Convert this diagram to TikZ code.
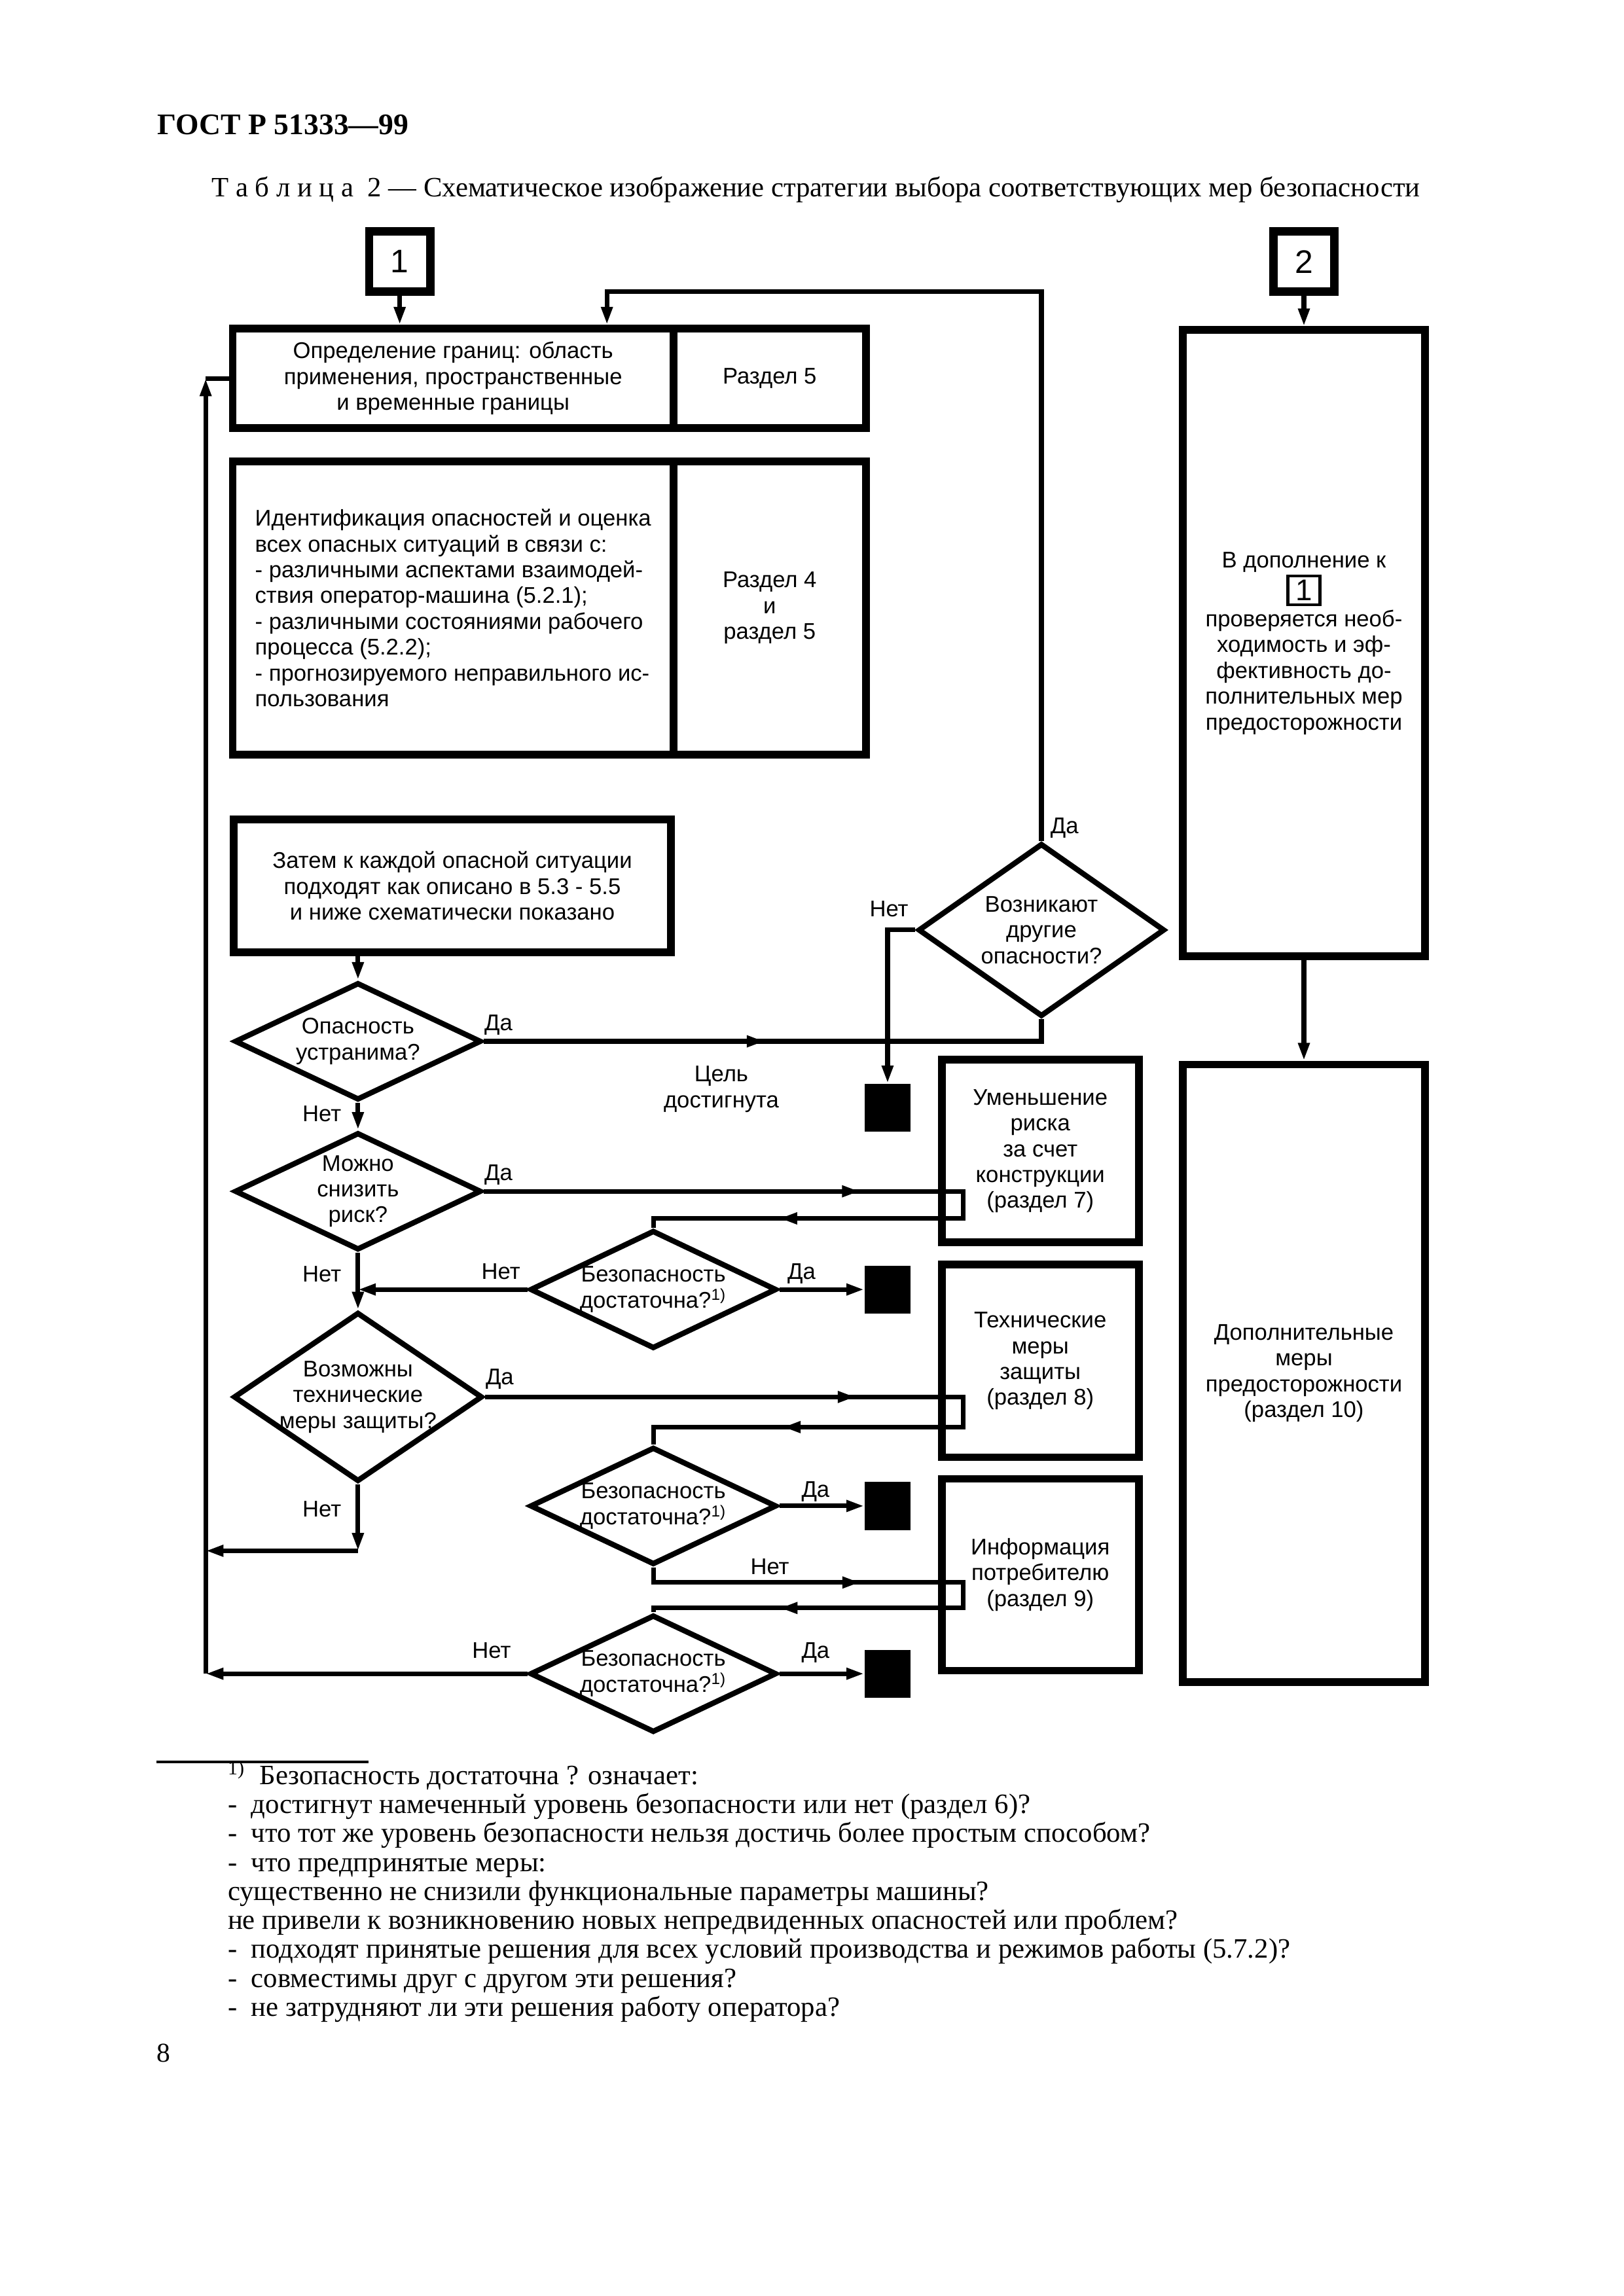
\documentclass[tikz,border=0pt]{standalone}
\usepackage{fontspec}
\setmainfont{Liberation Serif}
\setsansfont{Liberation Sans}
\usetikzlibrary{shapes.geometric,arrows.meta,decorations.markings,positioning}

\newcommand{\dtext}{\sffamily\fontsize{8.35}{9.5}\selectfont}
\newcommand{\framedone}{{\setlength{\fboxrule}{0.35mm}\setlength{\fboxsep}{0.35mm}\fbox{\fontsize{11}{11}\selectfont\makebox[3.1mm]{1}}}}
\tikzset{gost/.tip={Triangle[length=2.3mm,width=1.4mm]}}

\begin{document}
\begin{tikzpicture}[x=1mm, y=-1mm,
    block/.style={draw, line width=1mm, inner sep=0pt, align=center, font=\dtext},
    startbox/.style={draw, line width=1.1mm, inner sep=0pt, minimum width=7.9mm, minimum height=7.8mm, font=\sffamily\fontsize{12}{12}\selectfont},
    decision/.style={diamond, draw, line width=0.7mm, inner sep=0pt, minimum width=31.9mm, minimum height=15.2mm},
    endbox/.style={fill=black, inner sep=0pt, minimum width=5.9mm, minimum height=6.2mm},
    conn/.style={line width=0.6mm},
    arr/.style={conn, -{gost}},
    midarrows/.style={postaction={decorate}, decoration={markings, #1}},
    lbl/.style={font=\dtext, inner sep=0pt}]

  \useasboundingbox (0,0) rectangle (210,297);

  % page head
  \node[anchor=base west, inner sep=0pt, font=\fontsize{11}{13}\selectfont\bfseries] (gost) at (20.3,17.4) {ГОСТ Р 51333—99};
  \node[anchor=base west, inner sep=0pt, font=\fontsize{10.3}{12}\selectfont] (caption) at (27.3,25.4)
    {Т а б л и ц а \ 2 — Схематическое изображение стратегии выбора соответствующих мер безопасности};

  % entry points
  \node[startbox] (start1) at (51.7,33.85) {1};
  \node[startbox] (start2) at (168.65,33.85) {2};

  % left column
  \node[block, minimum width=57mm, minimum height=12.9mm] (bound) at (58.6,48.95)
    {Определение границ: область\\применения, пространственные\\и временные границы};
  \node[block, minimum width=24.9mm, minimum height=12.9mm] (boundsec) at (99.55,48.95) {Раздел 5};

  \node[block, minimum width=57mm, minimum height=37.9mm, align=left] (ident) at (58.6,78.65)
    {Идентификация опасностей и оценка\\
     всех опасных ситуаций в связи с:\\
     - различными аспектами взаимодей-\\
     ствия оператор-машина (5.2.1);\\
     - различными состояниями рабочего\\
     процесса (5.2.2);\\
     - прогнозируемого неправильного ис-\\
     пользования};
  \node[block, minimum width=24.9mm, minimum height=37.9mm] (identsec) at (99.55,78.65) {Раздел 4\\и\\раздел 5};

  \node[block, minimum width=56.6mm, minimum height=17.2mm] (then) at (58.5,114.6)
    {Затем к каждой опасной ситуации\\подходят как описано в 5.3 - 5.5\\и ниже схематически показано};

  % decisions
  \node[decision, label={[align=center, font=\dtext]center:Опасность\\устранима?}] (d1) at (46.3,134.7) {};
  \node[decision, minimum height=22.4mm, label={[align=center, font=\dtext]center:Возникают\\другие\\опасности?}] (d2) at (134.7,120.3) {};
  \node[decision, label={[align=center, font=\dtext]center:Можно\\снизить\\риск?}] (d3) at (46.3,154.1) {};
  \node[decision, minimum height=15.3mm, label={[align=center, font=\dtext]center:Безопасность\\достаточна?\textsuperscript{1)}}] (d4) at (84.5,166.8) {};
  \node[decision, minimum width=32.2mm, minimum height=21.9mm, label={[align=center, font=\dtext]center:Возможны\\технические\\меры защиты?}] (d5) at (46.3,180.7) {};
  \node[decision, label={[align=center, font=\dtext]center:Безопасность\\достаточна?\textsuperscript{1)}}] (d6) at (84.5,194.8) {};
  \node[decision, label={[align=center, font=\dtext]center:Безопасность\\достаточна?\textsuperscript{1)}}] (d7) at (84.5,216.5) {};

  % measures
  \node[block, minimum width=25.5mm, minimum height=23.6mm] (design) at (134.55,148.9)
    {Уменьшение\\риска\\за счет\\конструкции\\(раздел 7)};
  \node[block, minimum width=25.5mm, minimum height=24.9mm] (protect) at (134.55,176.05)
    {Технические\\меры\\защиты\\(раздел 8)};
  \node[block, minimum width=25.5mm, minimum height=24.8mm] (info) at (134.55,203.7)
    {Информация\\потребителю\\(раздел 9)};

  % right column
  \node[block, minimum width=31.3mm, minimum height=81mm] (check) at (168.65,83.2)
    {В дополнение к\\\framedone\\проверяется необ-\\ходимость и эф-\\фективность до-\\полнительных мер\\предосторожности};
  \node[block, minimum width=31.3mm, minimum height=79.9mm] (extra) at (168.65,177.65)
    {Дополнительные\\меры\\предосторожности\\(раздел 10)};

  % goal reached
  \node[endbox] (goal1) at (114.8,143.3) {};
  \node[endbox] (goal2) at (114.8,166.8) {};
  \node[endbox] (goal3) at (114.8,194.8) {};
  \node[endbox] (goal4) at (114.8,216.5) {};
  \node[lbl, align=center] (goal) at (93.3,140.9) {Цель\\достигнута};

  % helper points
  \coordinate (fbtop) at (78.5,37.7);
  \coordinate (fbl) at (26.6,48.95);
  \coordinate (fbmid) at (46.3,200.6);
  \coordinate (e1) at (124.6,157.6);
  \coordinate (f1) at (124.6,184.6);
  \coordinate (g1) at (124.6,204.7);
  \coordinate (g2) at (124.6,208.0);

  % connectors
  \draw[arr] (start1.south) -- (start1.south |- bound.north);
  \draw[arr] (start2) -- (check);
  \draw[arr] (check) -- (extra);
  \draw[arr] (d1.north |- then.south) -- (d1.north);

  \draw[conn, midarrows={mark=at position 36.3mm with {\arrow{gost}}}] (d1.east) -| (d2.south);
  \draw[arr] (d2.north) |- (fbtop) -- (fbtop |- bound.north);
  \draw[arr] (d2.west) -| (goal1.north);

  \draw[arr] (d1.south) -- (d3.north);
  \draw[conn, midarrows={mark=at position 48.6mm with {\arrow{gost}}, mark=at position 89.3mm with {\arrow{gost}}}]
    (d3.east) -| (e1) -| (d4.north);
  \draw[arr] (d4.west) -- (d4.west -| d3.south);
  \draw[arr] (d4.east) -- (goal2.west);

  \draw[arr] (d3.south) -- (d5.north);
  \draw[conn, midarrows={mark=at position 47.9mm with {\arrow{gost}}, mark=at position 89.1mm with {\arrow{gost}}}]
    (d5.east) -| (f1) -| (d6.north);
  \draw[arr] (d5.south) -- (fbmid);
  \draw[arr] (fbmid) -- (fbmid -| fbl);
  \draw[arr] (d6.east) -- (goal3.west);

  \draw[conn, midarrows={mark=at position 28.7mm with {\arrow{gost}}, mark=at position 69.1mm with {\arrow{gost}}}]
    (d6.south) |- (g1) -- (g2) -| (d7.north);
  \draw[arr] (d7.west) -- (d7.west -| fbl);
  \draw[arr] (d7.east) -- (goal4.west);
  \draw[arr] (d7.west -| fbl) -- (fbl);
  \draw[conn] (fbl) -- (bound.west);

  % yes / no
  \node[lbl, anchor=base west] (d1yes) at ([yshift=1.4mm]d1.east) {Да};
  \node[lbl, anchor=base east] (d1no) at ([xshift=-2.1mm, yshift=-2.4mm]d1.south) {Нет};
  \node[lbl, anchor=base west] (d2yes) at ([xshift=1.1mm, yshift=0.9mm]d2.north) {Да};
  \node[lbl, anchor=base east] (d2no) at ([xshift=-0.85mm, yshift=1.7mm]d2.west) {Нет};
  \node[lbl, anchor=base west] (d3yes) at ([yshift=1.4mm]d3.east) {Да};
  \node[lbl, anchor=base east] (d3no) at ([xshift=-2.1mm, yshift=-3.8mm]d3.south) {Нет};
  \node[lbl, anchor=base east] (d4no) at ([xshift=-0.85mm, yshift=1.3mm]d4.west) {Нет};
  \node[lbl, anchor=base west] (d4yes) at ([xshift=1mm, yshift=1.3mm]d4.east) {Да};
  \node[lbl, anchor=base west] (d5yes) at ([yshift=1.6mm]d5.east) {Да};
  \node[lbl, anchor=base east] (d5no) at ([xshift=-2.1mm, yshift=-4.2mm]d5.south) {Нет};
  \node[lbl, anchor=base west] (d6yes) at ([xshift=2.8mm, yshift=1.1mm]d6.east) {Да};
  \node[lbl, anchor=base west] (d6no) at ([xshift=12.5mm, yshift=-0.9mm]d6.south) {Нет};
  \node[lbl, anchor=base east] (d7no) at ([xshift=-2.05mm, yshift=2mm]d7.west) {Нет};
  \node[lbl, anchor=base west] (d7yes) at ([xshift=2.8mm, yshift=2mm]d7.east) {Да};

  % footnote (base = last line)
  \draw[line width=0.3mm] (20.2,227.9) -- (47.7,227.9);
  \node[anchor=base west, inner sep=0pt, align=left, font=\fontsize{10.3}{10.66}\selectfont] (note) at (29.4,260.8)
    {\textsuperscript{1)}\ \ Безопасность достаточна ? означает:\\
     -\ \ достигнут намеченный уровень безопасности или нет (раздел 6)?\\
     -\ \ что тот же уровень безопасности нельзя достичь более простым способом?\\
     -\ \ что предпринятые меры:\\
     существенно не снизили функциональные параметры машины?\\
     не привели к возникновению новых непредвиденных опасностей или проблем?\\
     -\ \ подходят принятые решения для всех условий производства и режимов работы (5.7.2)?\\
     -\ \ совместимы друг с другом эти решения?\\
     -\ \ не затрудняют ли эти решения работу оператора?};
  \node[anchor=base west, inner sep=0pt, font=\fontsize{10}{12}\selectfont] (page) at (20.2,266.7) {8};
\end{tikzpicture}
\end{document}
